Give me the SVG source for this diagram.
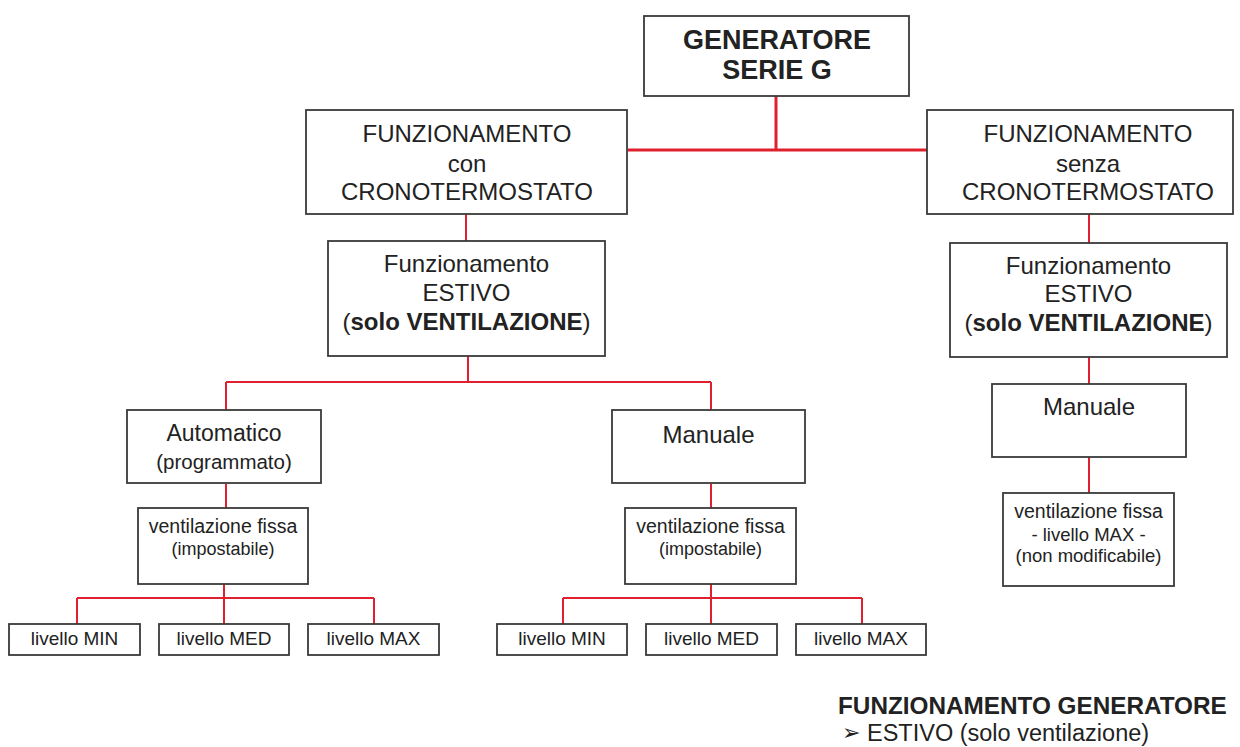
<svg xmlns="http://www.w3.org/2000/svg" width="1240" height="747" viewBox="0 0 1240 747">
<style>
.box{fill:#fff;stroke:#3a3a3a;stroke-width:1.8}
.t{font-family:"Liberation Sans",Arial,sans-serif;fill:#222;text-anchor:middle}
.l{font-size:24px}
.s{font-size:19px}
.b{font-weight:bold}
.c{stroke:#e0202e;stroke-width:2;fill:none}
.ct{stroke:#e0202e;stroke-width:3;fill:none}
</style>
<rect width="1240" height="747" fill="#fff"/>
<g id="connectors">
<path class="ct" d="M776 96V150M628 150H927"/>
<path class="c" d="M466 214V241M468 356V382M226 382H711M226 382V410M711 382V410"/>
<path class="c" d="M226 484V508M224 584V625M77 598H374M77 598V625M374 598V625"/>
<path class="c" d="M711 484V508M711 584V625M563 598H862M563 598V625M862 598V625"/>
<path class="c" d="M1089 214V243M1089 357V384M1089 457V493"/>
</g>
<g id="generatore">
<rect class="box" x="644" y="16" width="265" height="80"/>
<text class="t b" x="777" y="49" font-size="27">GENERATORE</text>
<text class="t b" x="777" y="79" font-size="27">SERIE G</text>
</g>
<g id="con-crono">
<rect class="box" x="306" y="110" width="321" height="104"/>
<text class="t l" x="467" y="142">FUNZIONAMENTO</text>
<text class="t l" x="467" y="172">con</text>
<text class="t l" x="467" y="200">CRONOTERMOSTATO</text>
</g>
<g id="senza-crono">
<rect class="box" x="927" y="110" width="306" height="104"/>
<text class="t l" x="1088" y="142">FUNZIONAMENTO</text>
<text class="t l" x="1088" y="172">senza</text>
<text class="t l" x="1088" y="200">CRONOTERMOSTATO</text>
</g>
<g id="estivo-left">
<rect class="box" x="328" y="241" width="277" height="115"/>
<text class="t l" x="466.5" y="272">Funzionamento</text>
<text class="t l" x="466.5" y="301">ESTIVO</text>
<text class="t l" x="466.5" y="330">(<tspan class="b">solo VENTILAZIONE</tspan>)</text>
</g>
<g id="estivo-right">
<rect class="box" x="950" y="243" width="277" height="114"/>
<text class="t l" x="1088.5" y="274">Funzionamento</text>
<text class="t l" x="1088.5" y="302">ESTIVO</text>
<text class="t l" x="1088.5" y="331">(<tspan class="b">solo VENTILAZIONE</tspan>)</text>
</g>
<g id="automatico">
<rect class="box" x="127" y="410" width="194" height="73"/>
<text class="t" x="224" y="441" font-size="23">Automatico</text>
<text class="t" x="224" y="469" font-size="20.5">(programmato)</text>
</g>
<g id="manuale-left">
<rect class="box" x="612" y="410" width="193" height="73"/>
<text class="t l" x="708.5" y="443">Manuale</text>
</g>
<g id="manuale-right">
<rect class="box" x="992" y="384" width="194" height="73"/>
<text class="t l" x="1089" y="415">Manuale</text>
</g>
<g id="vent-left">
<rect class="box" x="138" y="508" width="170" height="76"/>
<text class="t" x="223" y="533" font-size="19.5">ventilazione fissa</text>
<text class="t" x="223" y="555" font-size="18">(impostabile)</text>
</g>
<g id="vent-mid">
<rect class="box" x="625" y="508" width="171" height="76"/>
<text class="t" x="710.5" y="533" font-size="19.5">ventilazione fissa</text>
<text class="t" x="710.5" y="555" font-size="18">(impostabile)</text>
</g>
<g id="vent-right">
<rect class="box" x="1003" y="493" width="171" height="93"/>
<text class="t" x="1088.5" y="518" font-size="19.5">ventilazione fissa</text>
<text class="t" x="1088.5" y="541" font-size="18.5">- livello MAX -</text>
<text class="t" x="1088.5" y="562" font-size="18.5">(non modificabile)</text>
</g>
<g id="lv-a-min"><rect class="box" x="9" y="624" width="131" height="31"/><text class="t s" x="74.5" y="645">livello MIN</text></g>
<g id="lv-a-med"><rect class="box" x="159" y="624" width="130" height="31"/><text class="t s" x="224" y="645">livello MED</text></g>
<g id="lv-a-max"><rect class="box" x="308" y="624" width="131" height="31"/><text class="t s" x="373.5" y="645">livello MAX</text></g>
<g id="lv-b-min"><rect class="box" x="497" y="624" width="130" height="31"/><text class="t s" x="562" y="645">livello MIN</text></g>
<g id="lv-b-med"><rect class="box" x="646" y="624" width="131" height="31"/><text class="t s" x="711.5" y="645">livello MED</text></g>
<g id="lv-b-max"><rect class="box" x="796" y="624" width="130" height="31"/><text class="t s" x="861" y="645">livello MAX</text></g>
<g id="legend">
<text x="838" y="714" font-family="Liberation Sans,Arial,sans-serif" font-size="24.3" font-weight="bold" fill="#222">FUNZIONAMENTO GENERATORE</text>
<text x="842" y="740" font-family="DejaVu Sans,sans-serif" font-size="22" fill="#222">➢</text>
<text x="867" y="741" font-family="Liberation Sans,Arial,sans-serif" font-size="23.5" fill="#222">ESTIVO (solo ventilazione)</text>
</g>
</svg>
